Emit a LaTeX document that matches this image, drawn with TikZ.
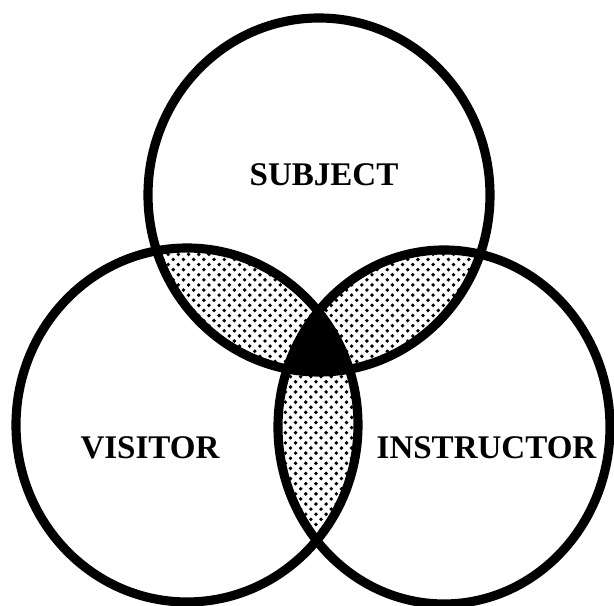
\documentclass[tikz,border=0pt]{standalone}
\usepackage{fontspec}
\setmainfont{Liberation Serif}
\usepackage{tikz}
\usetikzlibrary{patterns}

% staggered dots for the pairwise overlaps
\pgfdeclarepatternformonly{venndots}{\pgfqpoint{-0.6pt}{-0.6pt}}{\pgfqpoint{2.1pt}{2.1pt}}{\pgfqpoint{2.9pt}{2.9pt}}{%
    \pgfpathcircle{\pgfqpoint{0pt}{0pt}}{0.55pt}
    \pgfpathcircle{\pgfqpoint{1.45pt}{1.45pt}}{0.55pt}
    \pgfusepath{fill}}

\newcommand{\subjectdisc}{(3.19,4.11) ellipse [x radius=1.71, y radius=1.77]}
\newcommand{\visitordisc}{(1.87,1.81) ellipse [x radius=1.71, y radius=1.77]}
\newcommand{\instructordisc}{(4.44,1.79) ellipse [x radius=1.66, y radius=1.77]}

\begin{document}
\begin{tikzpicture}[
    every node/.style={font=\bfseries\fontsize{9.4}{11}\selectfont},
    ring/.style={draw=black, line width=2.6pt},
    overlap/.style={pattern=venndots, pattern color=black},
    ]
    \useasboundingbox (0,0) rectangle (6.14,6.06);

    % Pairwise overlaps
    \begin{scope}
        \clip \subjectdisc;
        \fill[overlap] \visitordisc;
        \fill[overlap] \instructordisc;
    \end{scope}
    \begin{scope}
        \clip \visitordisc;
        \fill[overlap] \instructordisc;
    \end{scope}

    % Common part of all three
    \begin{scope}
        \clip \subjectdisc;
        \clip \visitordisc;
        \fill[black] \instructordisc;
    \end{scope}

    % Circles
    \draw[ring] \subjectdisc;
    \draw[ring] \visitordisc;
    \draw[ring] \instructordisc;

    % Labels
    \node (subject) at (3.24, 4.31) {SUBJECT};
    \node (visitor) at (1.50, 1.58) {VISITOR};
    \node (instructor) at (4.865, 1.58) {INSTRUCTOR};

\end{tikzpicture}
\end{document}
